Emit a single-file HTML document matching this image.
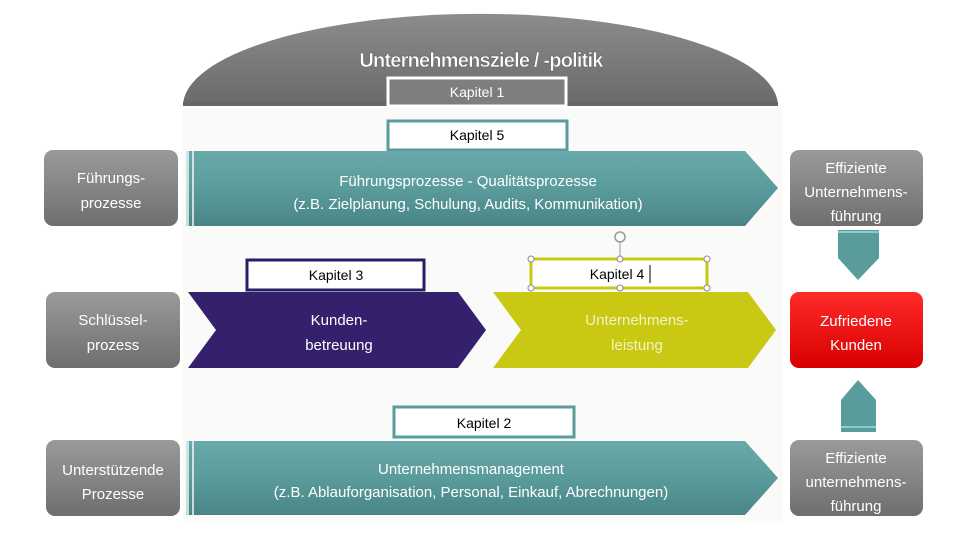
<!DOCTYPE html>
<html><head><meta charset="utf-8"><style>
html,body{margin:0;padding:0;background:#fff;}
svg{display:block;font-family:"Liberation Sans",sans-serif;}
</style></head><body>
<svg width="960" height="541" viewBox="0 0 960 541" xmlns="http://www.w3.org/2000/svg">
<defs>
<linearGradient id="gray" x1="0" y1="0" x2="0" y2="1"><stop offset="0" stop-color="#9a9a9a"/><stop offset="0.5" stop-color="#858585"/><stop offset="1" stop-color="#6e6e6e"/></linearGradient>
<linearGradient id="dome" x1="0" y1="0" x2="0" y2="1"><stop offset="0" stop-color="#8c8c8c"/><stop offset="1" stop-color="#6a6a6a"/></linearGradient>
<linearGradient id="teal" x1="0" y1="0" x2="0" y2="1"><stop offset="0" stop-color="#6aa9aa"/><stop offset="0.5" stop-color="#5a9b9c"/><stop offset="1" stop-color="#4a8586"/></linearGradient>
<linearGradient id="red" x1="0" y1="0" x2="0" y2="1"><stop offset="0" stop-color="#ff2a2a"/><stop offset="1" stop-color="#d80000"/></linearGradient>
</defs>
<rect x="183" y="108" width="600" height="415" fill="#fafaf8"/>
<!-- dome -->
<path d="M183,106 A297,92 0 0 1 778,106 Z" fill="url(#dome)"/>
<rect x="183" y="102" width="595" height="4" fill="#666"/>
<text x="481" y="67" text-anchor="middle" font-size="20" font-weight="bold" letter-spacing="-0.8" fill="#fff" stroke="#555" stroke-width="0.4">Unternehmensziele / -politik</text>
<rect x="388" y="78" width="178" height="28" fill="#7e7e7e" stroke="#fff" stroke-width="3"/>
<text x="477" y="97" text-anchor="middle" font-size="14" fill="#fff">Kapitel 1</text>
<!-- Kapitel 5 -->
<rect x="388" y="121" width="179" height="29" fill="#fff" stroke="#5a9b9c" stroke-width="3"/>
<text x="477" y="140" text-anchor="middle" font-size="14" fill="#000">Kapitel 5</text>
<!-- left gray boxes -->
<g fill="url(#gray)">
<rect x="44" y="150" width="134" height="76" rx="9"/>
<rect x="46" y="292" width="134" height="76" rx="9"/>
<rect x="46" y="440" width="134" height="76" rx="9"/>
<rect x="790" y="150" width="133" height="76" rx="9"/>
<rect x="790" y="440" width="133" height="76" rx="9"/>
</g>
<rect x="790" y="292" width="133" height="76" rx="9" fill="url(#red)"/>
<g fill="#fff" font-size="15" text-anchor="middle">
<text x="111" y="183">Führungs-</text><text x="111" y="208">prozesse</text>
<text x="113" y="325">Schlüssel-</text><text x="113" y="350">prozess</text>
<text x="113" y="475">Unterstützende</text><text x="113" y="499">Prozesse</text>
<text x="856" y="173">Effiziente</text><text x="856" y="197">Unternehmens-</text><text x="856" y="221">führung</text>
<text x="856" y="326">Zufriedene</text><text x="856" y="350">Kunden</text>
<text x="856" y="463">Effiziente</text><text x="856" y="487">unternehmens-</text><text x="856" y="511">führung</text>
</g>
<!-- top teal arrow -->
<path d="M186,151 H745 L778,188 L745,226 H186 Z" fill="url(#teal)"/>
<rect x="186" y="151" width="3" height="75" fill="#fff" opacity="0.7"/>
<rect x="192" y="151" width="2" height="75" fill="#fff" opacity="0.7"/>
<g fill="#fff" font-size="15" text-anchor="middle">
<text x="468" y="186">Führungsprozesse - Qualitätsprozesse</text>
<text x="468" y="209">(z.B. Zielplanung, Schulung, Audits, Kommunikation)</text>
</g>
<!-- bottom teal arrow -->
<path d="M186,441 H745 L778,478 L745,515 H186 Z" fill="url(#teal)"/>
<rect x="186" y="441" width="3" height="74" fill="#fff" opacity="0.7"/>
<rect x="192" y="441" width="2" height="74" fill="#fff" opacity="0.7"/>
<g fill="#fff" font-size="15" text-anchor="middle">
<text x="471" y="474">Unternehmensmanagement</text>
<text x="471" y="497">(z.B. Ablauforganisation, Personal, Einkauf, Abrechnungen)</text>
</g>
<!-- Kapitel 2 -->
<rect x="394" y="407" width="180" height="30" fill="#fff" stroke="#5a9b9c" stroke-width="3"/>
<text x="484" y="428" text-anchor="middle" font-size="14" fill="#000">Kapitel 2</text>
<!-- purple chevron -->
<path d="M188,292 H458 L486,330 L458,368 H188 L216,330 Z" fill="#35206e"/>
<text x="339" y="325" text-anchor="middle" font-size="15" fill="#fff">Kunden-</text>
<text x="339" y="350" text-anchor="middle" font-size="15" fill="#fff">betreuung</text>
<!-- yellow chevron -->
<path d="M493,292 H748 L776,330 L748,368 H493 L521,330 Z" fill="#c9c914"/>
<text x="637" y="325" text-anchor="middle" font-size="15" fill="#f4f4c0">Unternehmens-</text>
<text x="637" y="350" text-anchor="middle" font-size="15" fill="#f4f4c0">leistung</text>
<!-- Kapitel 3 -->
<rect x="247" y="260" width="177" height="30" fill="#fff" stroke="#2b1c68" stroke-width="3"/>
<text x="336" y="280" text-anchor="middle" font-size="14" fill="#000">Kapitel 3</text>
<!-- Kapitel 4 -->
<rect x="531" y="259" width="176" height="29" fill="#fff" stroke="#c9c914" stroke-width="3"/>
<text x="617" y="279" text-anchor="middle" font-size="14" fill="#000">Kapitel 4</text>
<line x1="650" y1="265" x2="650" y2="283" stroke="#000"/>
<line x1="620" y1="243" x2="620" y2="259" stroke="#999"/>
<circle cx="620" cy="237" r="5" fill="none" stroke="#999" stroke-width="1.5"/>
<g fill="#fff" stroke="#888">
<circle cx="531" cy="259" r="3"/><circle cx="620" cy="259" r="3"/><circle cx="707" cy="259" r="3"/>
<circle cx="531" cy="288" r="3"/><circle cx="620" cy="288" r="3"/><circle cx="707" cy="288" r="3"/>
</g>
<!-- down arrow -->
<path d="M838,230 H879 V258 L858,280 L838,258 Z" fill="#5a9b9c"/>
<rect x="838" y="231" width="41" height="2" fill="#8cc"/>
<!-- up arrow -->
<path d="M841,432 H876 V400 L858,380 L841,400 Z" fill="#5a9b9c"/>
<rect x="841" y="426" width="35" height="2" fill="#8cc"/>
</svg>
</body></html>
